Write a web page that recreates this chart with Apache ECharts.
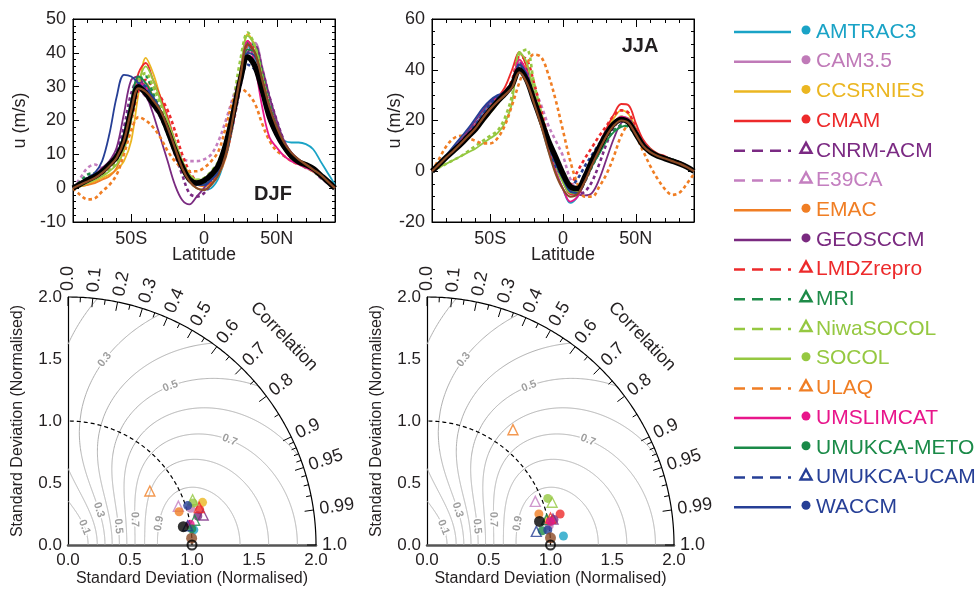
<!DOCTYPE html>
<html><head><meta charset="utf-8">
<script src="https://cdn.jsdelivr.net/npm/echarts@6/dist/echarts.min.js"></script>
<style>html,body{margin:0;padding:0;background:#fff}#c{width:979px;height:590px}</style>
</head><body><div id="c"></div>
<script>
// ---------------- DATA ----------------
const latitudes = [-90,-85,-80,-75,-70,-65,-60,-55,-50,-45,-40,-35,-30,-25,-20,-15,-10,-5,0,5,10,15,20,25,30,35,40,45,50,55,60,65,70,75,80,85,90];
const latTickLabels = {'-50':'50S','0':'0','50':'50N'};
const latMajorTicks = [-50,0,50];
const modelNames = ['AMTRAC3','CAM3.5','CCSRNIES','CMAM','CNRM-ACM','E39CA','EMAC','GEOSCCM','LMDZrepro','MRI','NiwaSOCOL','SOCOL','ULAQ','UMSLIMCAT','UMUKCA-METO','UMUKCA-UCAM','WACCM'];

// DJF zonal wind (m/s), latitudes -90..90 step 5
const djf_AMTRAC3   = [0,1,2.5,3.5,5,7,10,16,25, 31,30,26,22,17,11,6,2,0, -0.5,0,3,10,21,33,42,38,29, 20,15.5,14,13.5,13.5,13,11.5,8,4.5,1];
const djf_CAM35     = [0,1.5,3,4,5.5,7.5,10,15,24, 31,30,27,23,18,12,7,3,1, 1.5,3,5,10,19,31,42,43,36, 27,19,14,10.5,8.5,7,5.5,4,2,0];
const djf_CCSRNIES  = [0,0.5,1,2,3,4,5.5,8,14, 28,38.5,34,27,20,13,7,2,0, -0.5,1,4,10,21,34,45.5,42,30, 22,16,12,9.5,8,7,5.5,4,2,0];
const djf_CMAM      = [0,1,2,3,4.5,6.5,9,14,24, 34,37,32,27,21,14,8,4,2, 2,3.5,6,12,22,34,43.5,40,31, 22,16,12,9.5,8,7,6,4,2,0];
const djf_CNRMACM   = [0,1.5,3,4,5.5,7.5,11,18,28, 32,29,25,21,16,10,4,-1.5,-2.5, -1.5,1.5,5,10,19,30,40,42,35, 27,20,14,10,8,6.5,5,3.5,1.5,0];
const djf_E39CA     = [0,3,6,7,6,7,10,15,24, 29,27,24,21,17,12,9,8,8, 8.5,10,14,20,27,34,40,37,30, 23,17,12,9.5,7.5,6,5,3,1.5,0];
const djf_EMAC      = [0,0.5,1,1.5,2.5,3.5,6,12,22, 30,31,27,23,18,12,7,3,1, 0.5,1.5,4,9,19,31,40,39,31, 23,17,12.5,9.5,8,7,5.5,4,2,0];
const djf_GEOSCCM   = [0,1.5,3,4,6,8,12,22,32, 33,28,22,15,8,1,-3.5,-4.8,-2.5, 0,3,6.5,11,20,31,40,42,35, 27,20,14,10.5,8.5,7,5.5,3.5,1.5,0];
const djf_LMDZrepro = [0,1,2,3,4,6,8.5,13,20, 29,32,30,27,23,17,10,5,2, 1,2,5,10,20,32,42,41,33, 24,17,12,9,7.5,6.5,5.5,4,2,0];
const djf_MRI       = [0,2,4,4.5,5,7,10,15,24, 32,33,28,23,17,11,6,2.5,1, 1.5,3,5.5,10,20,33,43,42,34, 25,18,13,10,8,6.5,5,3.5,2,0];
const djf_NiwaSOCOL = [0,1,2,3,4,5.5,8,13,23, 32,34,30,25,19,13,8,4,2.5, 3,5,8,14,25,38,46,42,33, 24,17,12,9,7.5,6,5,3.5,1.5,0];
const djf_SOCOL     = [0,0.5,1.5,2.5,3.5,5,7,11,20, 31,36,32,26,20,14,8,4,2.5, 2.5,3.5,6,12,22,35,45,42,33, 24,17,12,9,7.5,6.5,5,3.5,2,0];
const djf_ULAQ      = [0,-2,-3.3,-3,-1,1,4,10,17, 21,20,18,15,11,8,6,5,5, 6,8,11,18,26,29.5,28,25,19, 14,11,9.5,8,7,6.5,5,3.5,2,0];
const djf_UMSLIMCAT = [0,1,2.5,3.5,5,7,10,15,24, 31,30,26,22,17,11,6,2.5,1.5, 2,4,7,12,22,34,43.5,36,24, 15,12,9.5,8,7,6,5,3.5,2,0];
const djf_UMUKCAMETO= [0,1.5,3,4,5,7,10,16,26, 33,31,27,23,17,11,6,2.5,1, 1,2.5,5,10,20,32,41,40,32, 24,18,13,10,8,7,5.5,4,2,0];
const djf_UMUKCAUCAM= [0,1.5,3,4,5,7,10,16,25, 31,30,26,22,17,11,6,2.5,1, 1,2.5,5,10,20,31,36.5,35,30, 23,17,12.5,10,8,7,5.5,4,2,0];
const djf_WACCM     = [0,1.5,3,4.5,8,16,27,33.5,33, 31,29,27,23,17,11,6,2.5,1, 1,2.5,5,10,20,32,40,39,32, 24,18,13,10,8,7,5.5,4,2,0];
const djf_mean      = [0,1.2,2.4,3.5,4.9,7,9.3,14,23, 30,28,25,22,17,11.3,6.4,2.6,1.5, 2.2,4,6.8,13,22,32,38.8,36,29, 21,16,12.3,9.5,7.8,6.9,5.8,3.9,2,0];
const djf_brown     = [0,1,2,3,4.5,6.5,9,14,23, 29.5,28.5,26,23,18,12,6,2,0, -0.5,1,4,10,21,33,42.5,40,32, 24,18,13.5,10.5,8.5,7,5.5,4,2,0];

// JJA zonal wind (m/s)
const jja_AMTRAC3   = [0,3,6,9,12,15,18.5,23,27, 29.5,31,34,42,38,28,18,8,0, -7,-12.5,-10,-4,3,8.5,14,18.5,20.5, 19.5,15,10.5,8,6.5,5.5,4.5,3.5,2,0];
const jja_CAM35     = [0,3,6,8.5,11,14,17,21,25, 28,31,35,43,38,29,20,11,3, -4,-9,-9,-4,3,9,14.5,18.5,21, 20,15.5,10.5,8,6.5,5.5,4.5,3.5,2,0];
const jja_CCSRNIES  = [0,2.5,5,7.5,10,13,16,19.5,23, 26.5,30,34,44,39,29,20,11,3, -3,-8,-8,-3,4,10,16,21,24, 22.5,17,11.5,8.5,6.5,5.5,4.5,3.5,2,0];
const jja_CMAM      = [0,2.5,5.5,8.5,11.5,15,18.5,22,26, 29,33,40,47,41,30,20,10,2, -4,-9,-8.5,-3,5,11,17,22.5,26.5, 26,19,12.5,9,7,6,4.5,3.5,2,0];
const jja_CNRMACM   = [0,3,6,9,12,15,18,22,26, 29,31.5,35,43,40,31,22,13,5, -2,-7,-9,-8,-4,3,11,17,21, 20.5,16,11,8.5,6.5,5.5,4.5,3.5,2,0];
const jja_E39CA     = [0,3,6,9,12,15,18,21,24, 27,30,34,41,39,33,26,18,12, 6,-3,-7,-4,2,8,14,18.5,20.5, 19.5,15,10.5,8,6.5,5.5,4.5,3.5,2,0];
const jja_EMAC      = [0,2.5,5,8,11,14,17.5,21.5,25.5, 28.5,30.5,33,40,37,29,20,11,3, -3,-8,-8.5,-3.5,3,9,14.5,18.5,20.5, 19.5,15,10.5,8,6.5,5.5,4.5,3.5,2,0];
const jja_GEOSCCM   = [0,3,6,9,12.5,16,20,24,27.5, 29.5,31,34,42,39,30,21,12,4, -2,-7,-9,-9.5,-8.5,-3,5,13,19, 20.5,16.5,11.5,8.5,6.5,5.5,4.5,3.5,2,0];
const jja_LMDZrepro = [0,3,6,9,12,15,18,21.5,25, 28,31,36,45,44,35,24,13,4, -2,-5,0,5,9.5,14,18,22,24, 23,17,11.5,8.5,6.5,5.5,4.5,3.5,2,0];
const jja_MRI       = [0,3,6,8.5,11,14,17,20.5,24, 27,30,34,42,38,29,20,11,3, -3,-8,-8.5,-4,2,7.5,12.5,16,18, 17.5,14,10,8,6.5,5.5,4.5,3.5,2,0];
const jja_NiwaSOCOL = [0,1.5,3,4.5,6,8,10,12,14, 16,21,30,46,48,35,23,12,3, -4,-8,-7.5,-3,3.5,9,14.5,19,21.5, 20.5,16,11,8.5,6.5,5.5,4.5,3.5,2,0];
const jja_SOCOL     = [0,1.5,3,4.5,6,7.5,9,11,13, 15,19,27,47,43,31,21,11,2, -4.5,-8.5,-8,-3,3.5,9,14.5,19,21.5, 20.5,16,11,8.5,6.5,5.5,4.5,3.5,2,0];
const jja_ULAQ      = [0,5,10,13,14,13,12,11,11, 13,18,26,35,42,46,45,38,28, 16,4,-5,-10,-10,-6,-1,6,14, 18,14,8,2,-3,-7,-9.3,-8.5,-5,-1];
const jja_UMSLIMCAT = [0,3,6,9,12,15,18,22,26, 29,31.5,35,44,39,29,19,9,0, -7,-12,-10,-4,3,9,14.5,19,21.5, 20.5,16,11,8.5,6.5,5.5,4.5,3.5,2,0];
const jja_UMUKCAMETO= [0,3,6,8.5,11,14,17.5,21.5,25.5, 28.5,30.5,34,42,38,29,20,11,3, -3,-8,-8.5,-4,2,7,12,15.5,17.5, 18,14.5,10.5,8,6.5,5.5,4.5,3.5,2,0];
const jja_UMUKCAUCAM= [0,3,6,9,12,15,18.5,22.5,26.5, 29,31,34,42,38,29,19,10,2, -2,-6,-3,2,6.5,11,16,19,20.5, 19.5,15,10.5,8,6.5,5.5,4.5,3.5,2,0];
const jja_WACCM     = [0,3,6.5,10,13.5,17,21,25,28, 30,31,34,42,38,29,20,11,3, -3,-8,-8.5,-4,2.5,8.5,14,18.5,20.5, 19.5,15,10.5,8,6.5,5.5,4.5,3.5,2,0];
const jja_mean      = [0,2.8,5.6,8.2,10.8,13.8,16.7,20.5,24, 27.5,30.5,34,40,36,28,20,12,5.6, -1,-6,-6.8,-2.2,4.3,9.5,14.8,18.7,20.4, 19.3,14.8,10.2,7.6,6,5,4,3,1.7,0];
const jja_brown     = [0,2.8,5.6,8.2,11,14,17,21,24.5, 27.5,30,33,39,35,27,18,8,-1, -7,-10,-9,-4,2.5,8.5,14,18,20, 19,14.5,10,7.5,6,5,4,3,1.7,0];

// Taylor diagram points: [x, y] in normalised standard-deviation units, model order
const taylorDJF = [[1.015,0.122],[0.99,0.296],[1.085,0.344],[1.062,0.285],[1.09,0.242],[0.89,0.313],[0.896,0.268],[1.047,0.234],[1.058,0.303],[1.022,0.2],[1.005,0.365],[1.01,0.338],[0.66,0.435],[0.985,0.167],[0.998,0.13],[0.965,0.155],[0.965,0.318]];
const taylorJJA = [[1.105,0.073],[0.99,0.155],[0.985,0.2],[1.078,0.25],[1.02,0.21],[0.877,0.352],[0.906,0.25],[1.028,0.205],[1.0,0.218],[0.968,0.205],[1.013,0.345],[0.978,0.376],[0.696,0.93],[1.0,0.19],[0.933,0.115],[0.885,0.11],[0.978,0.121]];
const taylorDJFMean = [0.93,0.148];
const taylorDJFBrown = [0.997,0.055];
const taylorJJAMean = [0.911,0.19];
const taylorJJABrown = [1.0,0.058];
const taylorRef = [1,0];

// Taylor diagram axis values
const corrMajor  = [0,0.1,0.2,0.3,0.4,0.5,0.6,0.7,0.8,0.9,0.95,0.99,1.0];
const corrLabels = ['0.0','0.1','0.2','0.3','0.4','0.5','0.6','0.7','0.8','0.9','0.95','0.99','1.0'];
const corrMinor  = [0.05,0.15,0.25,0.35,0.45,0.55,0.65,0.75,0.85,0.91,0.92,0.93,0.94,0.96,0.97,0.98];
const skillLevels = [0.1,0.2,0.3,0.4,0.5,0.6,0.7,0.8,0.9];
const skillLabelSpots = [[0.1,47,-1],[0.3,48.7,-1],[0.5,20.4,-1],[0.7,21,-1],[0.9,13.3,-1],[0.7,33,1],[0.5,57.2,1],[0.3,78.8,1]];

// ---------------- STYLES ----------------
const modelColors = ['#1aa3c6','#c07ab8','#ebb621','#ed2a2b','#7b2a83','#c47fc0','#f07e24','#7a2a80','#ed2a2b','#1e8b48','#95c841','#95c841','#f07e24','#e8168b','#1a8a48','#263f96','#263f96'];
const modelDashed = [false,false,false,false,true,true,false,false,true,true,true,false,true,false,false,true,false];
const brownColor = '#8b4a25';
const txt = '#231f20';
const FONT = '"Liberation Sans", Arial, sans-serif';

const djfModels = [djf_AMTRAC3,djf_CAM35,djf_CCSRNIES,djf_CMAM,djf_CNRMACM,djf_E39CA,djf_EMAC,djf_GEOSCCM,djf_LMDZrepro,djf_MRI,djf_NiwaSOCOL,djf_SOCOL,djf_ULAQ,djf_UMSLIMCAT,djf_UMUKCAMETO,djf_UMUKCAUCAM,djf_WACCM];
const jjaModels = [jja_AMTRAC3,jja_CAM35,jja_CCSRNIES,jja_CMAM,jja_CNRMACM,jja_E39CA,jja_EMAC,jja_GEOSCCM,jja_LMDZrepro,jja_MRI,jja_NiwaSOCOL,jja_SOCOL,jja_ULAQ,jja_UMSLIMCAT,jja_UMUKCAMETO,jja_UMUKCAUCAM,jja_WACCM];

// ---------------- AXES ----------------
const xAxes = [], yAxes = [];
function topAxes(gi, yMin, yMax, yInt, ySplit, nameGapY) {
  const base = {gridIndex:gi, type:'value', min:-90, max:90, splitLine:{show:false}};
  xAxes.push(Object.assign({}, base, {interval:10, position:'bottom',
    axisLine:{onZero:false, lineStyle:{color:'#000', width:1}},
    axisTick:{inside:true, length:4, lineStyle:{color:'#000'}},
    axisLabel:{fontSize:18, color:txt, margin:8, formatter:v=> (latTickLabels[v] !== undefined ? latTickLabels[v] : '')},
    name:'Latitude', nameLocation:'middle', nameGap:24, nameMoveOverlap:false, nameTextStyle:{fontSize:18, color:txt}}));
  xAxes.push(Object.assign({}, base, {position:'bottom', axisLine:{show:false, onZero:false},
    axisTick:{inside:true, length:8, customValues:latMajorTicks, lineStyle:{color:'#000'}}, axisLabel:{show:false}}));
  xAxes.push(Object.assign({}, base, {interval:10, position:'top',
    axisLine:{onZero:false, lineStyle:{color:'#000'}}, axisTick:{inside:true, length:4, lineStyle:{color:'#000'}}, axisLabel:{show:false}}));
  xAxes.push(Object.assign({}, base, {position:'top', axisLine:{show:false, onZero:false},
    axisTick:{inside:true, length:8, customValues:latMajorTicks, lineStyle:{color:'#000'}}, axisLabel:{show:false}}));
  const yb = {gridIndex:gi, type:'value', min:yMin, max:yMax, interval:yInt, splitLine:{show:false},
    axisLine:{onZero:false, lineStyle:{color:'#000'}},
    axisTick:{inside:true, length:6, lineStyle:{color:'#000'}},
    minorTick:{show:true, splitNumber:ySplit, length:3, lineStyle:{color:'#000'}}};
  yAxes.push(Object.assign({}, yb, {position:'left', axisLabel:{fontSize:18, color:txt, margin:7},
    name:'u (m/s)', nameLocation:'middle', nameGap:nameGapY, nameRotate:90, nameMoveOverlap:false, nameTextStyle:{fontSize:18, color:txt}}));
  yAxes.push(Object.assign({}, yb, {position:'right', axisLabel:{show:false}}));
}
topAxes(0, -10, 50, 10, 5, 44);
topAxes(1, -20, 60, 20, 4, 28);

function taylorAxes(gi) {
  xAxes.push({gridIndex:gi, type:'value', min:0, max:2, interval:0.5, splitLine:{show:false},
    axisLine:{onZero:false, lineStyle:{color:'#555', width:2.5}}, axisTick:{show:false},
    axisLabel:{fontSize:17, color:txt, margin:7, formatter:v=>v.toFixed(1)},
    name:'Standard Deviation (Normalised)', nameLocation:'middle', nameGap:26, nameTextStyle:{fontSize:16, color:txt}});
  yAxes.push({gridIndex:gi, type:'value', min:0, max:2, interval:0.5, splitLine:{show:false},
    axisLine:{onZero:false, lineStyle:{color:'#000', width:1.2}}, axisTick:{show:false},
    axisLabel:{fontSize:17, color:txt, margin:6, formatter:v=>v.toFixed(1)},
    name:'Standard Deviation (Normalised)', nameLocation:'middle', nameGap:42, nameRotate:90, nameTextStyle:{fontSize:16, color:txt}});
}
taylorAxes(2); taylorAxes(3);

// ---------------- SERIES ----------------
const series = [];
function topSeries(gi, arrs, meanArr, brownArr) {
  const xi = gi*4, yi = gi*2;
  const mk = (vals) => latitudes.map((l,j)=>[l, vals[j]]);
  modelNames.forEach((n,i)=>{
    series.push({type:'line', name:n, xAxisIndex:xi, yAxisIndex:yi, data:mk(arrs[i]), smooth:0.35,
      showSymbol:false, symbol:'none', silent:true, z:2,
      lineStyle:{color:modelColors[i], width:modelDashed[i]?2.6:1.8, type:modelDashed[i]?[3.5,3]:'solid'}});
  });
  series.push({type:'line', name:'mean', xAxisIndex:xi, yAxisIndex:yi, data:mk(meanArr), smooth:0.35,
    showSymbol:false, symbol:'none', silent:true, z:3, lineStyle:{color:'#000', width:5.5}});
  series.push({type:'line', name:'ref', xAxisIndex:xi, yAxisIndex:yi, data:mk(brownArr), smooth:0.35,
    showSymbol:false, symbol:'none', silent:true, z:4, lineStyle:{color:brownColor, width:2.2}});
}
topSeries(0, djfModels, djf_mean, djf_brown);
topSeries(1, jjaModels, jja_mean, jja_brown);

function taylorRender(params, api) {
  const ch = [];
  const rpx = api.size([1,0])[0];
  const pt = (r, deg) => { const t = deg*Math.PI/180; return api.coord([r*Math.cos(t), r*Math.sin(t)]); };
  const arc = (r, d0, d1, n) => { const a=[]; for (let i=0;i<=n;i++) a.push(pt(r, d0+(d1-d0)*i/n)); return a; };
  const branchSigma = (S, deg, sign) => {
    const R = Math.cos(deg*Math.PI/180);
    const k = (1+R)/Math.sqrt(S);
    const d = Math.sqrt(Math.max(0, k*k-4));
    return (k + sign*d)/2;
  };
  skillLevels.forEach(S => {
    const tmax = S > 0.25 ? Math.acos(2*Math.sqrt(S)-1)*180/Math.PI : 90;
    [-1,1].forEach(sign => {
      let cur = [];
      const N = 400;
      for (let i=0;i<=N;i++) {
        const deg = tmax*i/N;
        const s = branchSigma(S, deg, sign);
        if (s > 2) { if (cur.length>1) ch.push({type:'polyline', shape:{points:cur}, style:{stroke:'#b0b0b0', lineWidth:1, fill:null}}); cur=[]; continue; }
        cur.push(pt(s, deg));
      }
      if (cur.length>1) ch.push({type:'polyline', shape:{points:cur}, style:{stroke:'#b0b0b0', lineWidth:1, fill:null}});
    });
  });
  skillLabelSpots.forEach(([S, deg, sign]) => {
    const p = pt(branchSigma(S, deg, sign), deg);
    const p1 = pt(branchSigma(S, deg-0.8, sign), deg-0.8);
    const p2 = pt(branchSigma(S, deg+0.8, sign), deg+0.8);
    let ang = Math.atan2(-(p2[1]-p1[1]), p2[0]-p1[0]);
    while (ang > Math.PI/2) ang -= Math.PI;
    while (ang <= -Math.PI/2) ang += Math.PI;
    ch.push({type:'text', x:p[0], y:p[1], rotation:ang, z2:5,
      style:{text:S.toFixed(1), fill:'#9e9e9e', font:'bold 11px '+FONT, align:'center', verticalAlign:'middle',
        textAlign:'center', textVerticalAlign:'middle', stroke:'#fff', lineWidth:3}});
  });
  ch.push({type:'polyline', shape:{points:arc(1,0,90,120)}, style:{stroke:'#000', lineWidth:1.2, lineDash:[4,3], fill:null}});
  ch.push({type:'polyline', shape:{points:arc(2,0,90,180)}, style:{stroke:'#000', lineWidth:1.2, fill:null}});
  const tick = (c, len) => {
    const deg = Math.acos(c)*180/Math.PI;
    const a = pt(2,deg), b = pt(2-len/rpx,deg);
    ch.push({type:'line', shape:{x1:a[0], y1:a[1], x2:b[0], y2:b[1]}, style:{stroke:'#000', lineWidth:1}});
  };
  corrMajor.forEach(c => tick(c, 9));
  corrMinor.forEach(c => tick(c, 5));
  corrMajor.forEach((c, i) => {
    const deg = Math.acos(c)*180/Math.PI;
    const p = pt(2 + 6/rpx, deg);
    ch.push({type:'text', x:p[0], y:p[1], rotation:deg*Math.PI/180,
      style:{text:corrLabels[i], fill:txt, font:'18px '+FONT, align:'left', verticalAlign:'middle', textAlign:'left', textVerticalAlign:'middle'}});
  });
  const pc = pt(2.42, 44);
  ch.push({type:'text', x:pc[0], y:pc[1], rotation:(44-90)*Math.PI/180,
    style:{text:'Correlation', fill:txt, font:'18px '+FONT, align:'center', verticalAlign:'middle', textAlign:'center', textVerticalAlign:'middle'}});
  return {type:'group', children:ch};
}

function taylorSeries(k, pts, meanPt, brownPt) {
  const xi = 8 + k, yi = 4 + k;
  series.push({type:'custom', xAxisIndex:xi, yAxisIndex:yi, data:[[0,0]], renderItem:taylorRender, clip:false, silent:true, z:1});
  modelNames.forEach((n,i)=>{
    const tri = modelDashed[i];
    series.push({type:'scatter', name:n, xAxisIndex:xi, yAxisIndex:yi, data:[pts[i]], silent:true, z:3,
      symbol: tri?'triangle':'circle', symbolSize: tri?10:9,
      itemStyle: tri ? {color:'rgba(0,0,0,0)', borderColor:modelColors[i], borderWidth:1.4} : {color:modelColors[i]}});
  });
  series.push({type:'scatter', xAxisIndex:xi, yAxisIndex:yi, data:[meanPt], symbol:'circle', symbolSize:11, itemStyle:{color:'#000'}, silent:true, z:4});
  series.push({type:'scatter', xAxisIndex:xi, yAxisIndex:yi, data:[brownPt], symbol:'circle', symbolSize:11, itemStyle:{color:brownColor}, silent:true, z:4});
  series.push({type:'scatter', xAxisIndex:xi, yAxisIndex:yi, data:[taylorRef], symbol:'circle', symbolSize:9, itemStyle:{color:'rgba(0,0,0,0)', borderColor:'#000', borderWidth:2}, silent:true, z:5});
}
taylorSeries(0, taylorDJF, taylorDJFMean, taylorDJFBrown);
taylorSeries(1, taylorJJA, taylorJJAMean, taylorJJABrown);

// ---------------- LEGEND (graphic) ----------------
const legendEls = [];
modelNames.forEach((n,i)=>{
  const y = 32 + i*29.7;
  const c = modelColors[i];
  legendEls.push({type:'line', shape:{x1:734, y1:y, x2:791, y2:y}, style:{stroke:c, lineWidth:2.5, lineDash: modelDashed[i]?[11,7]:null}, silent:true});
  if (modelDashed[i]) {
    legendEls.push({type:'polygon', shape:{points:[[806,y-8],[800.5,y+2],[811.5,y+2]]}, style:{fill:null, stroke:c, lineWidth:2.4}, silent:true});
  } else {
    legendEls.push({type:'circle', shape:{cx:806, cy:y-2, r:4.5}, style:{fill:c}, silent:true});
  }
  legendEls.push({type:'text', x:816, y:y, style:{text:n, fill:c, font:'21px '+FONT, textVerticalAlign:'middle', verticalAlign:'middle'}, silent:true});
});
legendEls.push({type:'text', x:273, y:194, style:{text:'DJF', fill:txt, font:'bold 20px '+FONT, textAlign:'center', align:'center', textVerticalAlign:'middle', verticalAlign:'middle'}, silent:true});
legendEls.push({type:'text', x:640, y:46, style:{text:'JJA', fill:txt, font:'bold 20px '+FONT, textAlign:'center', align:'center', textVerticalAlign:'middle', verticalAlign:'middle'}, silent:true});

const option = {
  animation:false, backgroundColor:'#fff',
  textStyle:{fontFamily:FONT, color:txt},
  grid:[
    {left:73, top:19, width:262, height:203, show:true, borderColor:'#000', borderWidth:1, backgroundColor:'transparent'},
    {left:432, top:19, width:262, height:203, show:true, borderColor:'#000', borderWidth:1, backgroundColor:'transparent'},
    {left:68, top:297, width:248, height:248},
    {left:427, top:297, width:247, height:248}
  ],
  xAxis:xAxes, yAxis:yAxes, series:series,
  graphic:{elements:legendEls}
};
const chart = echarts.init(document.getElementById('c'), null, {renderer:'canvas'});
chart.setOption(option);
</script></body></html>
